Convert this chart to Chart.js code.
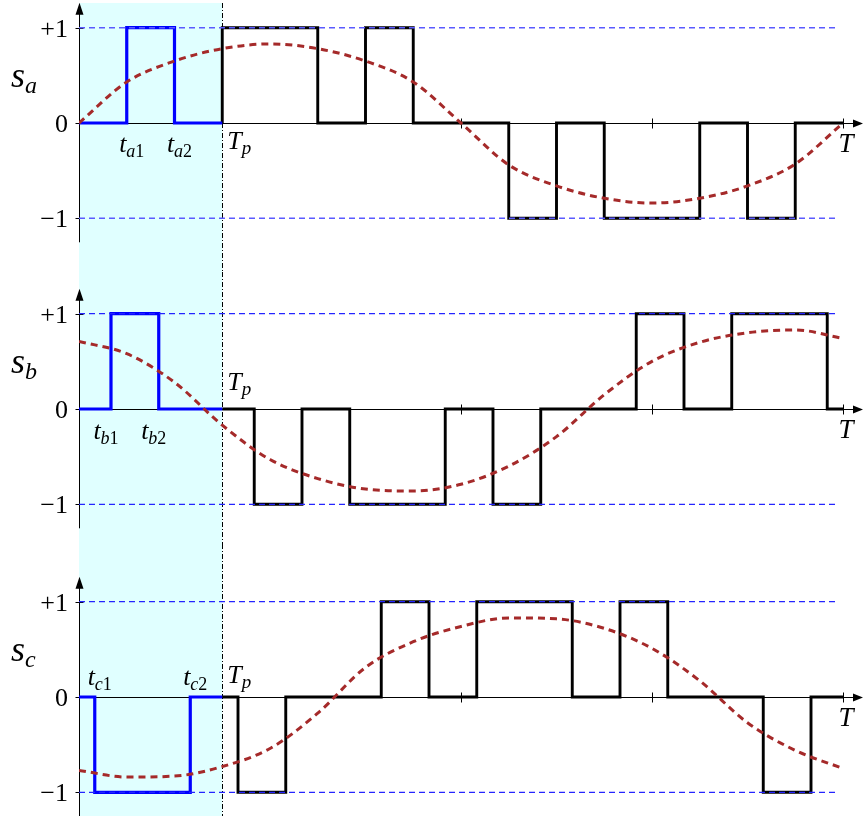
<!DOCTYPE html>
<html>
<head>
<meta charset="utf-8">
<script src="https://cdn.jsdelivr.net/npm/chart.js@4/dist/chart.umd.min.js"></script>
<style>
  html, body { margin: 0; padding: 0; background: #fff; }
  #wrap { position: relative; width: 863px; height: 816px; }
  canvas { position: absolute; left: 0; }
</style>
</head>
<body>
<div id="wrap">
  <canvas id="pa" width="863" height="272" style="top:0px"></canvas>
  <canvas id="pb" width="863" height="272" style="top:272px"></canvas>
  <canvas id="pc" width="863" height="272" style="top:544px"></canvas>
</div>
<script>
// time axis in units of T/16, Tp = 3
const TP = 3;
const sampleT = [0, 1, 2, 3, 4, 5, 6, 7, 8, 9, 10, 11, 12, 13, 14, 15, 16];

// reference (dashed red) curves
const refA = [0, 0.43, 0.65, 0.78, 0.83, 0.78, 0.65, 0.43, 0, -0.44, -0.66, -0.79, -0.84, -0.79, -0.66, -0.43, 0];
const refB = [0.71, 0.58, 0.28, -0.17, -0.53, -0.73, -0.84, -0.86, -0.79, -0.60, -0.29, 0.15, 0.50, 0.70, 0.80, 0.83, 0.74];
const refC = [-0.77, -0.84, -0.83, -0.73, -0.54, -0.17, 0.31, 0.58, 0.74, 0.83, 0.82, 0.72, 0.51, 0.17, -0.27, -0.56, -0.75];

// first period (blue) : switching instants and levels
const pulseTA = [0, 1, 2, 3];
const pulseLA = [0, 1, 0, 0];
const pulseTB = [0, 0.67, 1.67, 3];
const pulseLB = [0, 1, 0, 0];
const pulseTC = [0, 0.33, 2.33, 3];
const pulseLC = [0, -1, 0, 0];

// rest of the period (black)
const swTA = [3, 3, 5, 6, 7, 9, 10, 11, 13, 14, 15, 16];
const swLA = [0, 1, 0, 1, 0, -1, 0, -1, 0, -1, 0, 0];
const swTB = [3, 3.67, 4.67, 5.67, 7.67, 8.67, 9.67, 11.67, 12.67, 13.67, 15.67, 16];
const swLB = [0, -1, 0, -1, 0, -1, 0, 1, 0, 1, 0, 0];
const swTC = [3, 3.33, 4.33, 6.33, 7.33, 8.33, 10.33, 11.33, 12.33, 14.33, 15.33, 16];
const swLC = [0, -1, 0, 1, 0, 1, 0, 1, 0, -1, 0, 0];

const xTicks = [8, 12, 16];
const yTicks = [1, 0, -1];
const yTickLabels = ['+1', '0', '\u22121'];
const levelLines = [1, -1];
const levelEnd = 15.9;

const PX_X = 47.75, PX_Y = 95.3, H = 272, LEFT = 79;
const SERIF = '"Liberation Serif", "DejaVu Serif", serif';

const pts = (xs, ys) => xs.map((v, i) => ({ x: v, y: ys[i] }));

// draws text made of pieces: [text, size, italic, dy]
function mathText(ctx, parts, x, y, align) {
  let w = 0;
  parts.forEach(p => {
    ctx.font = (p[2] ? 'italic ' : '') + p[1] + 'px ' + SERIF;
    p.w = ctx.measureText(p[0]).width;
    w += p.w;
  });
  let cx = align === 'center' ? x - w / 2 : x;
  ctx.textAlign = 'left';
  ctx.textBaseline = 'alphabetic';
  parts.forEach(p => {
    ctx.font = (p[2] ? 'italic ' : '') + p[1] + 'px ' + SERIF;
    ctx.fillText(p[0], cx, y + p[3]);
    cx += p.w;
  });
}

function makePanel(cfg) {
  const axes = {
    id: 'axes',
    beforeDatasetsDraw(chart) {
      const { ctx, scales: { x, y } } = chart;
      const x0 = x.getPixelForValue(0), xTp = x.getPixelForValue(TP);
      const y0 = Math.round(y.getPixelForValue(0)) + 0.5;
      const yTop = y.getPixelForValue(1), yBot = y.getPixelForValue(-1);
      ctx.save();
      ctx.fillStyle = '#e0ffff';
      ctx.fillRect(x0, cfg.bandTop, xTp - x0, chart.height - cfg.bandTop);

      ctx.strokeStyle = '#000';
      ctx.lineWidth = 1;
      ctx.setLineDash([5, 2, 1, 2]);
      ctx.beginPath();
      ctx.moveTo(Math.round(xTp) + 0.5, cfg.bandTop);
      ctx.lineTo(Math.round(xTp) + 0.5, chart.height);
      ctx.stroke();
      ctx.setLineDash([]);

      // x axis with arrow
      ctx.lineWidth = 1;
      ctx.beginPath();
      ctx.moveTo(x0, y0);
      ctx.lineTo(855, y0);
      ctx.stroke();
      ctx.fillStyle = '#000';
      ctx.beginPath();
      ctx.moveTo(863, y0);
      ctx.lineTo(853, y0 - 4);
      ctx.lineTo(853, y0 + 4);
      ctx.closePath();
      ctx.fill();
      xTicks.forEach(t => {
        const px = Math.round(x.getPixelForValue(t)) + 0.5;
        ctx.beginPath();
        ctx.moveTo(px, y0 - 5);
        ctx.lineTo(px, y0 + 5);
        ctx.stroke();
      });

      // y axis with arrow
      const xa = Math.round(x0) + 0.5;
      ctx.beginPath();
      ctx.moveTo(xa, yBot + 24);
      ctx.lineTo(xa, yTop - 14);
      ctx.stroke();
      ctx.beginPath();
      ctx.moveTo(xa, yTop - 25);
      ctx.lineTo(xa - 4, yTop - 13);
      ctx.lineTo(xa + 4, yTop - 13);
      ctx.closePath();
      ctx.fill();
      yTicks.forEach((v, i) => {
        const py = Math.round(y.getPixelForValue(v)) + 0.5;
        ctx.beginPath();
        ctx.moveTo(xa - 4, py);
        ctx.lineTo(xa + 4, py);
        ctx.stroke();
        ctx.font = '26px ' + SERIF;
        ctx.textAlign = 'right';
        ctx.textBaseline = 'alphabetic';
        ctx.fillText(yTickLabels[i], 68, py + 8);
      });
      ctx.restore();
    },
    afterDatasetsDraw(chart) {
      const { ctx, scales: { x, y } } = chart;
      const y0 = y.getPixelForValue(0);
      ctx.save();
      ctx.fillStyle = '#000';
      mathText(ctx, [['s', 36, true, 0], [cfg.name, 24, true, 6]], 11, y0 - 36, 'left');
      mathText(ctx, [['T', 26, true, 0], ['p', 19, true, 5]], x.getPixelForValue(TP) + 5, y0 + cfg.tpDy, 'left');
      mathText(ctx, [['T', 27, true, 0]], 846, y0 + 29, 'center');
      [1, 2].forEach(k => {
        const px = x.getPixelForValue(cfg.pT[k]) + cfg.edgeDx;
        mathText(ctx, [['t', 26, true, 0], [cfg.name, 18, true, 5], [String(k), 18, false, 5]],
          px, y0 + cfg.edgeDy, 'center');
      });
      ctx.restore();
    }
  };

  const levelSets = levelLines.map(v => ({
    data: pts([0, levelEnd], [v, v]),
    borderColor: cfg.refColor,
    borderWidth: cfg.refWidth,
    borderDash: [6, 4],
    pointRadius: 0,
    order: 0
  }));

  return new Chart(document.getElementById(cfg.id), {
    type: 'line',
    data: {
      datasets: [
        ...levelSets,
        {
          data: pts(sampleT, cfg.ref),
          borderColor: '#a52a2a',
          borderWidth: 3,
          borderDash: [7, 5],
          cubicInterpolationMode: 'monotone',
          pointRadius: 0,
          order: 1
        },
        {
          data: pts(cfg.pT, cfg.pL),
          borderColor: '#0000ff',
          borderWidth: 3.2,
          stepped: 'before',
          pointRadius: 0,
          order: 2
        },
        {
          data: pts(cfg.sT, cfg.sL),
          borderColor: '#000',
          borderWidth: 2.9,
          stepped: 'before',
          pointRadius: 0,
          order: 3
        }
      ]
    },
    options: {
      responsive: false,
      animation: false,
      layout: { padding: { left: LEFT, right: 0, top: 0, bottom: 0 } },
      plugins: { legend: { display: false }, tooltip: { enabled: false } },
      scales: {
        x: { type: 'linear', display: false, min: 0, max: (863 - LEFT) / PX_X },
        y: { type: 'linear', display: false, min: -(H - cfg.zero) / PX_Y, max: cfg.zero / PX_Y }
      }
    },
    plugins: [axes]
  });
}

makePanel({ id: 'pa', name: 'a', ref: refA, pT: pulseTA, pL: pulseLA, sT: swTA, sL: swLA,
  zero: 123, bandTop: 3, edgeDx: 5, edgeDy: 29, tpDy: 26, refColor: '#5b5bff', refWidth: 1.6 });
makePanel({ id: 'pb', name: 'b', ref: refB, pT: pulseTB, pL: pulseLB, sT: swTB, sL: swLB,
  zero: 137, bandTop: 0, edgeDx: -5, edgeDy: 30, tpDy: -19, refColor: '#2424ff', refWidth: 1.2 });
makePanel({ id: 'pc', name: 'c', ref: refC, pT: pulseTC, pL: pulseLC, sT: swTC, sL: swLC,
  zero: 153, bandTop: 0, edgeDx: 5, edgeDy: -12, tpDy: -14, refColor: '#2424ff', refWidth: 1.2 });
</script>
</body>
</html>
